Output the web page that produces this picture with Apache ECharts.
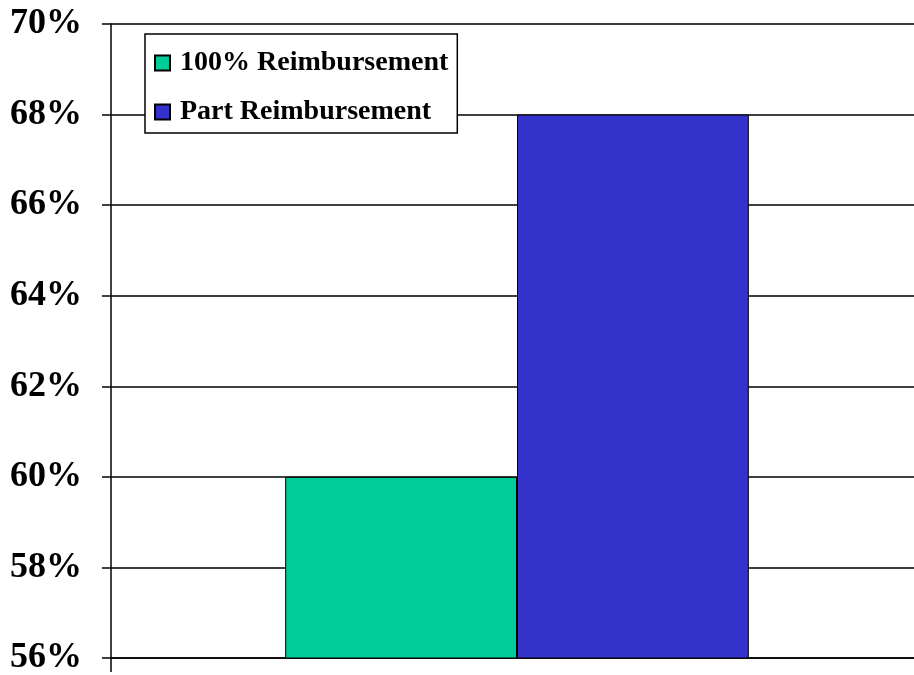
<!DOCTYPE html>
<html>
<head>
<meta charset="utf-8">
<script src="https://cdn.jsdelivr.net/npm/echarts@6/dist/echarts.min.js"></script>
<style>
html,body{margin:0;padding:0;background:#fff;}
#chart{width:914px;height:675px;}
</style>
</head>
<body>
<div id="chart"></div>
<script>
const categories = [''];
const seriesNames = ['100% Reimbursement', 'Part Reimbursement'];
const fullReimbursement = [60];
const partReimbursement = [68];
const yMin = 56, yMax = 70, yStep = 2;

const chart = echarts.init(document.getElementById('chart'), null, {renderer: 'canvas'});
const font = 'Liberation Serif';
chart.setOption({
  animation: false,
  backgroundColor: '#ffffff',
  grid: {left: 111, width: 812, top: 24, bottom: 17, containLabel: false, outerBoundsMode: 'none'},
  legend: {
    orient: 'vertical',
    left: 145, top: 34,
    backgroundColor: '#ffffff',
    borderColor: '#000000', borderWidth: 1.5,
    padding: [15, 9, 7, 9],
    itemGap: 21,
    itemWidth: 15, itemHeight: 15,
    icon: 'rect',
    data: seriesNames,
    textStyle: {fontFamily: font, fontWeight: 'bold', fontSize: 28, color: '#000', padding: [0, 0, 0, 5]}
  },
  xAxis: {
    type: 'category',
    data: categories,
    axisLine: {show: true, lineStyle: {color: '#000', width: 1.5}},
    axisTick: {show: true, length: 14, lineStyle: {color: '#000', width: 1.5}},
    axisLabel: {show: false},
    splitLine: {show: false}
  },
  yAxis: {
    type: 'value',
    min: yMin, max: yMax, interval: yStep,
    axisLine: {show: true, lineStyle: {color: '#000', width: 1.5}},
    axisTick: {show: true, length: 9, lineStyle: {color: '#000', width: 1.5}},
    axisLabel: {margin: 29, formatter: '{value}%', fontFamily: font, fontWeight: 'bold', fontSize: 36, color: '#000'},
    splitLine: {show: true, lineStyle: {color: '#000', width: 1.5}}
  },
  series: [
    {name: seriesNames[0], type: 'bar', data: fullReimbursement, barGap: '0%', barCategoryGap: '42.9%',
     itemStyle: {color: '#00CC99', borderColor: '#000', borderWidth: 1}},
    {name: seriesNames[1], type: 'bar', data: partReimbursement, barGap: '0%', barCategoryGap: '42.9%',
     itemStyle: {color: '#3333CC', borderColor: '#000', borderWidth: 1}}
  ]
});
</script>
</body>
</html>
